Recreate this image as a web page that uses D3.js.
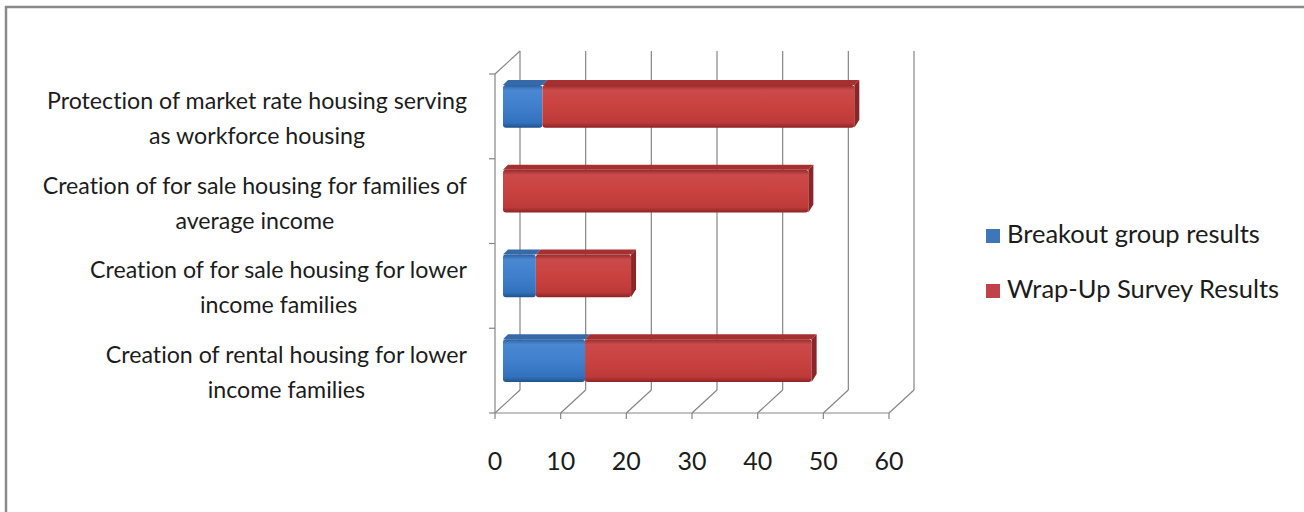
<!DOCTYPE html>
<html>
<head>
<meta charset="utf-8">
<script src="https://cdn.jsdelivr.net/npm/d3@7"></script>
<style>
  html, body { margin: 0; padding: 0; background: #ffffff; }
  svg { display: block; }
  text { font-family: Lato, "Open Sans", sans-serif; fill: #1c1c1c; font-variant-ligatures: none; }
</style>
</head>
<body>
<svg id="chart" width="1304" height="512"></svg>
<script>
// Category labels, top to bottom, already split into their display lines
const categories = [
  ["Protection of market rate housing serving", "as workforce housing"],
  ["Creation of for sale housing for families of", "average income"],
  ["Creation of for sale housing for lower", "income families"],
  ["Creation of rental housing for lower", "income families"]
];
const seriesNames = ["Breakout group results", "Wrap-Up Survey Results"];
const breakoutValues = [6, 0, 5, 12.5];
const wrapUpValues = [47.5, 46.5, 14.5, 34.5];
const xTicks = [0, 10, 20, 30, 40, 50, 60];

const svg = d3.select("#chart");

// Front plane of the 3-D box and the depth offset of the back wall
const x = d3.scaleLinear().domain([0, 60]).range([495, 889]);
const y = d3.scaleBand().domain(d3.range(categories.length)).range([74, 413]);
const depth = { dx: 25, dy: -23 };
const barShift = { dx: 8, dy: -10 };   // bars sit part-way into the box
const barFace = { dx: 5, dy: -5 };     // visible top / end faces of a bar
const floorY = y.range()[1];
const topY = y.range()[0];
const gridColor = "#858585";

// Outer frame (top and left edges only)
svg.append("path")
  .attr("d", "M6,512 V7 H1304")
  .attr("fill", "none")
  .attr("stroke", "#8a8a8a")
  .attr("stroke-width", 2.5);

// Gradients for the bar faces
const defs = svg.append("defs");
function gradient(id, stops) {
  const g = defs.append("linearGradient").attr("id", id)
    .attr("x1", 0).attr("y1", 0).attr("x2", 0).attr("y2", 1);
  stops.forEach(([o, c]) => g.append("stop").attr("offset", o).attr("stop-color", c));
}
gradient("gBlue", [[0, "#2c5f9e"], [0.12, "#4a88d2"], [0.5, "#3f7fcc"], [0.88, "#3272bd"], [1, "#22508c"]]);
gradient("gRed", [[0, "#942a2c"], [0.12, "#cb4a4a"], [0.5, "#c94240"], [0.88, "#bd3a39"], [1, "#8c2326"]]);
const seriesFill = ["url(#gBlue)", "url(#gRed)"];
const seriesTop = ["#3569a8", "#a5302f"];
const seriesEnd = ["#2a5790", "#8b2527"];
const legendColors = ["#3f76b8", "#c0424a"];

// Box: floor lines, back wall gridlines, left wall
const grid = svg.append("g").attr("stroke", gridColor).attr("stroke-width", 1.2).attr("fill", "none");
xTicks.forEach(t => {
  const fx = x(t);
  grid.append("line")
    .attr("x1", fx).attr("y1", floorY)
    .attr("x2", fx + depth.dx).attr("y2", floorY + depth.dy);
  grid.append("line")
    .attr("x1", fx + depth.dx).attr("y1", floorY + depth.dy)
    .attr("x2", fx + depth.dx).attr("y2", topY + depth.dy);
  grid.append("line")
    .attr("x1", fx).attr("y1", floorY)
    .attr("x2", fx).attr("y2", floorY + 6);
});
grid.append("line")
  .attr("x1", x(0)).attr("y1", floorY).attr("x2", x(60)).attr("y2", floorY);
grid.append("line")
  .attr("x1", x(0)).attr("y1", topY).attr("x2", x(0)).attr("y2", floorY);
grid.append("line")
  .attr("x1", x(0)).attr("y1", topY)
  .attr("x2", x(0) + depth.dx).attr("y2", topY + depth.dy);
d3.range(categories.length + 1).forEach(i => {
  const yy = i < categories.length ? y(i) : floorY;
  grid.append("line")
    .attr("x1", x(0) - 6).attr("y1", yy).attr("x2", x(0)).attr("y2", yy);
});

// Stacked bars
const barH = y.bandwidth() * 0.506;
const bars = svg.append("g");
categories.forEach((c, i) => {
  const values = [breakoutValues[i], wrapUpValues[i]];
  const top = y(i) + (y.bandwidth() - barH) / 2 + barShift.dy;
  let start = 0;
  values.forEach((v, s) => {
    if (v <= 0) return;
    const x0 = x(start) + barShift.dx;
    const x1 = x(start + v) + barShift.dx;
    // top face
    bars.append("path")
      .attr("d", `M${x0},${top} L${x1},${top} L${x1 + barFace.dx},${top + barFace.dy} L${x0 + barFace.dx},${top + barFace.dy} Z`)
      .attr("fill", seriesTop[s]);
    // front face
    bars.append("rect")
      .attr("x", x0).attr("y", top)
      .attr("width", x1 - x0).attr("height", barH)
      .attr("rx", 3)
      .attr("fill", seriesFill[s]);
    start += v;
  });
  // end face of the whole stack
  const xe = x(start) + barShift.dx;
  const lastSeries = wrapUpValues[i] > 0 ? 1 : 0;
  bars.append("path")
    .attr("d", `M${xe},${top} L${xe + barFace.dx},${top + barFace.dy} L${xe + barFace.dx},${top + barH + barFace.dy - 3} L${xe},${top + barH} Z`)
    .attr("fill", seriesEnd[lastSeries]);
});

// Category labels: each block right-aligned, its lines centred on one another
const labelSize = 23.2, lineGap = 35, labelRight = 467;
categories.forEach((lines, i) => {
  const g = svg.append("g");
  const cy = y(i) + y.bandwidth() / 2;
  const texts = lines.map((ln, k) => g.append("text")
    .attr("font-size", labelSize)
    .attr("text-anchor", "middle")
    .attr("y", cy - 7.5 + k * lineGap)
    .text(ln));
  const maxW = d3.max(texts, t => t.node().getComputedTextLength());
  texts.forEach(t => t.attr("x", labelRight - maxW / 2));
});

// Value axis labels
svg.append("g").selectAll("text")
  .data(xTicks)
  .join("text")
  .attr("x", d => x(d))
  .attr("y", 470)
  .attr("font-size", 25)
  .attr("text-anchor", "middle")
  .text(d => d);

// Legend
const legend = svg.append("g");
seriesNames.forEach((name, s) => {
  const ly = 243 + s * 55;
  legend.append("rect")
    .attr("x", 986).attr("y", ly - 14)
    .attr("width", 14).attr("height", 14)
    .attr("fill", legendColors[s]);
  legend.append("text")
    .attr("x", 1007).attr("y", ly)
    .attr("font-size", 25.5)
    .text(name);
});
</script>
</body>
</html>
